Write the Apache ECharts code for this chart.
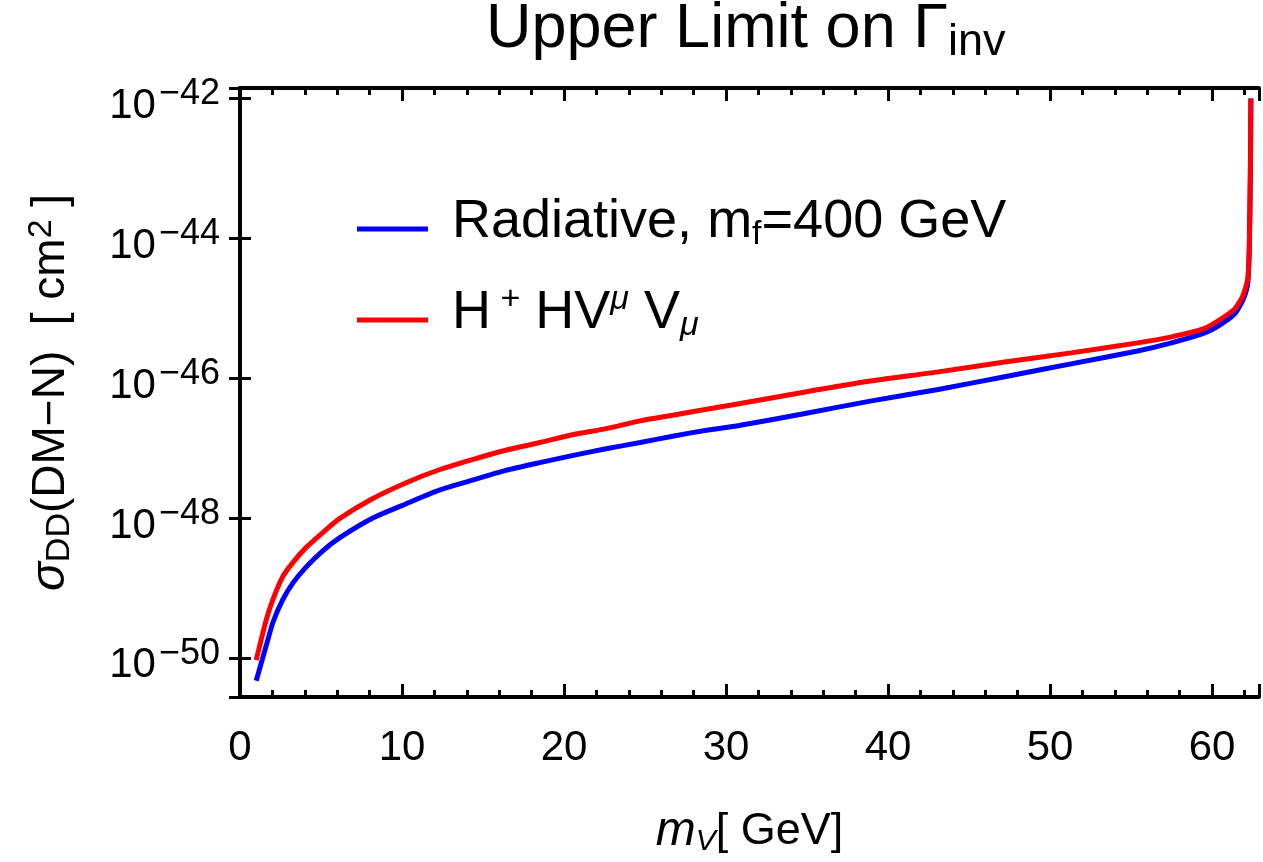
<!DOCTYPE html>
<html>
<head>
<meta charset="utf-8">
<script src="https://cdn.jsdelivr.net/npm/echarts@6/dist/echarts.min.js"></script>
<style>
  html, body { margin: 0; padding: 0; background: #fff; }
  #chart { width: 1263px; height: 862px; }
</style>
</head>
<body>
<div id="chart"></div>
<script>
// m_V [GeV] and sigma_DD [cm^2]
var radX = [1.0, 1.62, 2.03, 2.64, 3.26, 4.09, 5.11, 6.14, 8.2, 10.26, 12.3, 14.4, 16.4, 18.5, 20.5, 22.6, 24.7, 26.7, 28.8, 30.8, 34.8, 38.9, 43.1, 47.2, 51.3, 55.4, 57.5, 59.5, 60.5, 61.4, 61.9, 62.2, 62.3, 62.37, 62.4];
var radY = [4.7e-51, 1.5e-50, 3.2e-50, 6.8e-50, 1.17e-49, 2.0e-49, 3.4e-49, 5.2e-49, 1.0e-48, 1.6e-48, 2.5e-48, 3.5e-48, 4.8e-48, 6.2e-48, 7.8e-48, 9.8e-48, 1.2e-47, 1.48e-47, 1.8e-47, 2.1e-47, 3.1e-47, 4.7e-47, 6.9e-47, 1.05e-46, 1.6e-46, 2.45e-46, 3.2e-46, 4.4e-46, 5.8e-46, 8.3e-46, 1.3e-45, 2.2e-45, 7.1e-45, 1.0e-43, 1.0e-42];

var hhvX = [1.0, 1.62, 2.03, 2.64, 3.26, 4.09, 5.11, 6.14, 8.2, 10.26, 12.3, 14.4, 16.4, 18.5, 20.5, 22.6, 24.7, 26.7, 28.8, 30.8, 34.8, 38.9, 43.1, 47.2, 51.3, 55.4, 57.5, 59.5, 60.5, 61.4, 61.9, 62.2, 62.3, 62.37, 62.4];
var hhvY = [9.3e-51, 3.5e-50, 6.8e-50, 1.45e-49, 2.3e-49, 3.8e-49, 6.2e-49, 9.8e-49, 1.9e-48, 3.2e-48, 4.9e-48, 6.9e-48, 9.3e-48, 1.2e-47, 1.55e-47, 1.9e-47, 2.45e-47, 2.95e-47, 3.6e-47, 4.3e-47, 6.3e-47, 9.1e-47, 1.23e-46, 1.7e-46, 2.3e-46, 3.2e-46, 3.9e-46, 5.1e-46, 6.9e-46, 9.8e-46, 1.5e-45, 2.6e-45, 7.1e-45, 1.0e-43, 1.0e-42];

var seriesNames = ['Radiative', 'HHVV'];
var xTicks = [0, 10, 20, 30, 40, 50, 60];

// echarts log axis rounds tiny tick values to 0, so plot in units of 1e-50 cm^2
var UNIT_EXP = -50;
var toPlot = function (xs, ys) {
    return xs.map(function (x, i) {
        return [x, ys[i] / Math.pow(10, UNIT_EXP)];
    });
};

var FONT = 'Liberation Sans';

var yLabel = function (v) {
    var lg = Math.log10(v);
    var k = Math.round(lg);
    if (Math.abs(lg - k) > 1e-6) return '';
    return '{b|10}{e|\u2212' + Math.abs(k + UNIT_EXP) + '}';
};

var chart = echarts.init(document.getElementById('chart'));

var yBase = {
    type: 'log',
    logBase: 100,
    min: Math.pow(10, -50.56 - UNIT_EXP),
    max: Math.pow(10, -41.85 - UNIT_EXP),
    splitNumber: 5,
    splitLine: {show: false},
    axisLine: {show: true, lineStyle: {color: '#000', width: 4}},
    axisTick: {show: true, inside: true, length: 11, lineStyle: {color: '#000', width: 3}}
};

var xBase = {
    type: 'value',
    min: 0,
    max: 62.9,
    interval: 10,
    splitLine: {show: false},
    axisLine: {show: true, onZero: false, lineStyle: {color: '#000', width: 4}},
    axisTick: {show: true, inside: true, length: 13, lineStyle: {color: '#000', width: 3}},
    minorTick: {show: true, splitNumber: 5, length: 7, lineStyle: {color: '#000', width: 3}}
};

chart.setOption({
    backgroundColor: '#fff',
    animation: false,
    title: {
        text: '{t|Upper Limit on \u0393}{s|inv}',
        left: 486,
        top: -5,
        padding: 0,
        textStyle: {
            rich: {
                t: {fontFamily: FONT, fontWeight: 'normal', fontSize: 63, lineHeight: 70, color: '#000'},
                s: {fontFamily: FONT, fontWeight: 'normal', fontSize: 45, lineHeight: 45, verticalAlign: 'bottom', color: '#000'}
            }
        }
    },
    grid: {left: 240, right: 4, top: 88, bottom: 156, containLabel: false},
    legend: {
        orient: 'vertical',
        left: 357,
        top: 195,
        padding: 0,
        itemWidth: 71,
        itemHeight: 5,
        itemGap: 31,
        icon: 'rect',
        data: seriesNames,
        formatter: function (name) {
            if (name === 'Radiative') return '{t|Radiative, m}{sub|f}{t|=400 GeV}';
            return '{t|H}{sup| +}{t| HV}{supi|\u03bc}{t| V}{subi|\u03bc}';
        },
        textStyle: {
            padding: [0, 0, 14, 19],
            rich: {
                t: {fontFamily: FONT, fontSize: 54, lineHeight: 60, color: '#000'},
                sub: {fontFamily: FONT, fontSize: 34, lineHeight: 34, verticalAlign: 'bottom', color: '#000'},
                subi: {fontFamily: FONT, fontStyle: 'italic', fontSize: 34, lineHeight: 34, verticalAlign: 'bottom', color: '#000'},
                sup: {fontFamily: FONT, fontSize: 34, lineHeight: 34, verticalAlign: 'top', color: '#000'},
                supi: {fontFamily: FONT, fontStyle: 'italic', fontSize: 34, lineHeight: 34, verticalAlign: 'top', color: '#000'}
            }
        }
    },
    xAxis: [
        Object.assign({}, xBase, {
            position: 'bottom',
            name: '{i|m}{s|V}{t|[ GeV]}',
            nameLocation: 'middle',
            nameGap: 110,
            nameTextStyle: {
                rich: {
                    i: {fontFamily: FONT, fontStyle: 'italic', fontSize: 48, lineHeight: 50, color: '#000'},
                    s: {fontFamily: FONT, fontStyle: 'italic', fontSize: 30, lineHeight: 30, verticalAlign: 'bottom', color: '#000'},
                    t: {fontFamily: FONT, fontSize: 45, lineHeight: 50, color: '#000'}
                }
            },
            axisLabel: {
                show: true, margin: 30, showMaxLabel: false,
                fontFamily: FONT, fontSize: 42, color: '#000',
                formatter: function (v) { return xTicks.indexOf(v) >= 0 ? String(v) : ''; }
            }
        }),
        Object.assign({}, xBase, {
            position: 'top',
            axisLabel: {show: false}
        })
    ],
    yAxis: [
        Object.assign({}, yBase, {
            position: 'left',
            name: '{s|\u03c3}{sub|DD}{t|(DM\u2212N)  [ cm}{sup|2}{t| ]}',
            nameLocation: 'middle',
            nameRotate: 90,
            nameGap: 163,
            nameTextStyle: {
                rich: {
                    s: {fontFamily: FONT, fontStyle: 'italic', fontSize: 48, lineHeight: 52, color: '#000'},
                    sub: {fontFamily: FONT, fontSize: 34, lineHeight: 34, verticalAlign: 'bottom', color: '#000'},
                    sup: {fontFamily: FONT, fontSize: 34, lineHeight: 34, verticalAlign: 'top', color: '#000'},
                    t: {fontFamily: FONT, fontSize: 46, lineHeight: 52, color: '#000'}
                }
            },
            axisLabel: {
                show: true, margin: 20,
                formatter: yLabel,
                rich: {
                    b: {fontFamily: FONT, fontSize: 42, lineHeight: 44, padding: [16, 3, 0, 0], color: '#000'},
                    e: {fontFamily: FONT, fontSize: 36, lineHeight: 36, verticalAlign: 'top', color: '#000'}
                }
            }
        }),
        Object.assign({}, yBase, {
            position: 'right',
            axisLabel: {show: false}
        })
    ],
    series: [
        {
            name: seriesNames[0],
            type: 'line',
            xAxisIndex: 0,
            yAxisIndex: 0,
            showSymbol: false,
            smooth: 0.2,
            color: '#0000ff',
            lineStyle: {color: '#0000ff', width: 5},
            data: toPlot(radX, radY)
        },
        {
            name: seriesNames[1],
            type: 'line',
            xAxisIndex: 0,
            yAxisIndex: 0,
            showSymbol: false,
            smooth: 0.2,
            color: '#ff0000',
            lineStyle: {color: '#ff0000', width: 5},
            data: toPlot(hhvX, hhvY)
        }
    ]
});
</script>
</body>
</html>
